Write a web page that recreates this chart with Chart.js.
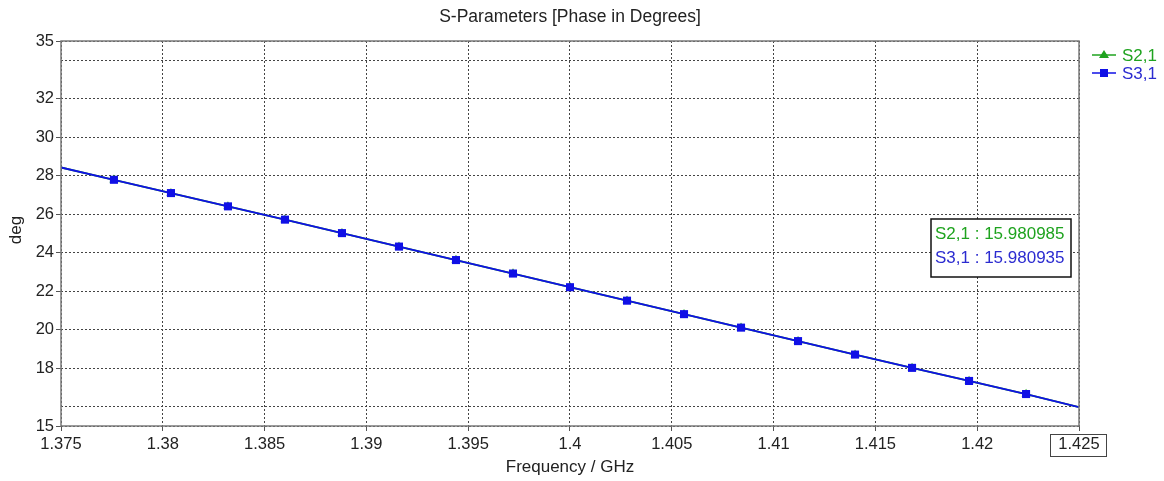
<!DOCTYPE html>
<html>
<head>
<meta charset="utf-8">
<script src="https://cdn.jsdelivr.net/npm/chart.js@4.4.1/dist/chart.umd.min.js"></script>
<style>html,body{margin:0;padding:0;background:#fff}</style>
</head>
<body>
<canvas id="miChart" width="1164" height="481"></canvas>
<script>
// Datos (frecuencia en GHz, fase en grados)
const frecuencias = [1.375, 1.3776, 1.3804, 1.3832, 1.386, 1.3888, 1.3916, 1.3944, 1.3972, 1.4,
  1.4028, 1.4056, 1.4084, 1.4112, 1.414, 1.4168, 1.4196, 1.4224, 1.425];
const s21 = [28.43, 27.79, 27.10, 26.41, 25.72, 25.02, 24.32, 23.62, 22.92, 22.21,
  21.51, 20.81, 20.11, 19.41, 18.71, 18.02, 17.34, 16.66, 15.980985];
const s31 = [28.43, 27.79, 27.10, 26.41, 25.72, 25.02, 24.32, 23.62, 22.92, 22.21,
  21.51, 20.81, 20.11, 19.41, 18.71, 18.02, 17.34, 16.66, 15.980935];
const seriesNames = ['S2,1', 'S3,1'];
const xTicks = [1.375, 1.38, 1.385, 1.39, 1.395, 1.4, 1.405, 1.41, 1.415, 1.42, 1.425];
const xTickLabels = ['1.375', '1.38', '1.385', '1.39', '1.395', '1.4', '1.405', '1.41', '1.415', '1.42', '1.425'];
const yTicks = [15, 16, 18, 20, 22, 24, 26, 28, 30, 32, 34, 35];
const yTickLabels = ['15', '', '18', '20', '22', '24', '26', '28', '30', '32', '', '35'];
const marcadorX = 1.425;
const marcadorTextos = ['S2,1 : 15.980985', 'S3,1 : 15.980935'];

const FONT = "'Liberation Sans', Arial, sans-serif";
const VERDE = '#1fa31f';
const AZUL = '#1010e6';
const TEXTO_AZUL = '#2b2bd0';

const toPoints = (vals) => frecuencias.map((f, i) => ({ x: f, y: vals[i] }));
const lastIdx = frecuencias.length - 1;
const radio = (r) => (ctx) => (ctx.dataIndex === 0 || ctx.dataIndex === lastIdx) ? 0 : r;

// Dibujar titulo, marco, leyenda y caja del marcador
const extras = {
  id: 'extras',
  afterDraw(chart) {
    const { ctx, chartArea: a, scales } = chart;
    ctx.save();
    // marco del grafico
    ctx.strokeStyle = '#7a7a7a';
    ctx.lineWidth = 1.5;
    ctx.strokeRect(a.left, a.top, a.right - a.left, a.bottom - a.top);
    // titulos
    ctx.fillStyle = '#222';
    ctx.textAlign = 'center';
    ctx.textBaseline = 'middle';
    ctx.font = '17.5px ' + FONT;
    ctx.fillText('S-Parameters [Phase in Degrees]', (a.left + a.right) / 2, 17);
    ctx.font = '17px ' + FONT;
    ctx.fillText('Frequency / GHz', (a.left + a.right) / 2, 467);
    ctx.save();
    ctx.translate(16, 230);
    ctx.rotate(-Math.PI / 2);
    ctx.fillText('deg', 0, 0);
    ctx.restore();
    // caja en la etiqueta 1.425
    const mx = scales.x.getPixelForValue(marcadorX);
    ctx.strokeStyle = '#444';
    ctx.lineWidth = 1;
    ctx.strokeRect(mx - 28.5, 434.5, 56, 22);
    // leyenda
    const colores = [VERDE, AZUL];
    const textos = [VERDE, TEXTO_AZUL];
    seriesNames.forEach((n, i) => {
      const y = 55 + i * 18;
      ctx.strokeStyle = colores[i];
      ctx.lineWidth = 1.5;
      ctx.beginPath(); ctx.moveTo(1092, y); ctx.lineTo(1116, y); ctx.stroke();
      ctx.fillStyle = colores[i];
      ctx.beginPath();
      if (i === 0) { ctx.moveTo(1104, y - 5); ctx.lineTo(1109, y + 3); ctx.lineTo(1099, y + 3); ctx.closePath(); }
      else { ctx.rect(1100, y - 4, 8, 8); }
      ctx.fill();
      ctx.fillStyle = textos[i];
      ctx.textAlign = 'left';
      ctx.fillText(n, 1122, y + 1);
    });
    // caja del marcador
    ctx.fillStyle = '#fff';
    ctx.fillRect(931, 219, 140, 58);
    ctx.strokeStyle = '#111';
    ctx.lineWidth = 1.5;
    ctx.strokeRect(931, 219, 140, 58);
    marcadorTextos.forEach((t, i) => {
      ctx.fillStyle = textos[i];
      ctx.textAlign = 'left';
      ctx.fillText(t, 935, 234 + i * 24);
    });
    ctx.restore();
  }
};

const miChart = new Chart(document.getElementById('miChart'), {
  type: 'line',
  data: {
    datasets: [
      { label: seriesNames[1], data: toPoints(s31), order: 0, borderColor: AZUL, backgroundColor: AZUL,
        borderWidth: 1.8, pointStyle: 'rect', pointRadius: radio(5.7), pointBorderWidth: 0, tension: 0 },
      { label: seriesNames[0], data: toPoints(s21), order: 1, borderColor: VERDE, backgroundColor: VERDE,
        borderWidth: 1.8, pointStyle: 'triangle', pointRadius: radio(5.2), pointBorderWidth: 0, tension: 0 }
    ]
  },
  options: {
    responsive: false,
    animation: false,
    layout: { padding: { left: 0, top: 41, right: 85, bottom: 0 } },
    plugins: { legend: { display: false }, tooltip: { enabled: false }, title: { display: false } },
    scales: {
      x: {
        type: 'linear', min: 1.375, max: 1.425,
        afterBuildTicks: (s) => { s.ticks = xTicks.map(v => ({ value: v })); },
        afterFit: (s) => { s.height = 55; },
        ticks: { callback: (v, i) => xTickLabels[i], color: '#222', font: { size: 16.5, family: FONT }, padding: 4, maxRotation: 0, autoSkip: false },
        grid: { color: '#444', lineWidth: 1, tickLength: 5, tickColor: '#555' },
        border: { display: false, dash: [2, 2] }
      },
      y: {
        type: 'linear', min: 15, max: 35,
        afterBuildTicks: (s) => { s.ticks = yTicks.map(v => ({ value: v })); },
        afterFit: (s) => { s.width = 61; },
        ticks: { callback: (v, i) => yTickLabels[i], color: '#222', font: { size: 16.5, family: FONT }, padding: 2, autoSkip: false },
        grid: { color: '#444', lineWidth: 1, tickLength: 5,
          tickColor: (c) => (yTickLabels[c.index] ? '#555' : 'rgba(0,0,0,0)') },
        border: { display: false, dash: [2, 2] }
      }
    }
  },
  plugins: [extras]
});
</script>
</body>
</html>
